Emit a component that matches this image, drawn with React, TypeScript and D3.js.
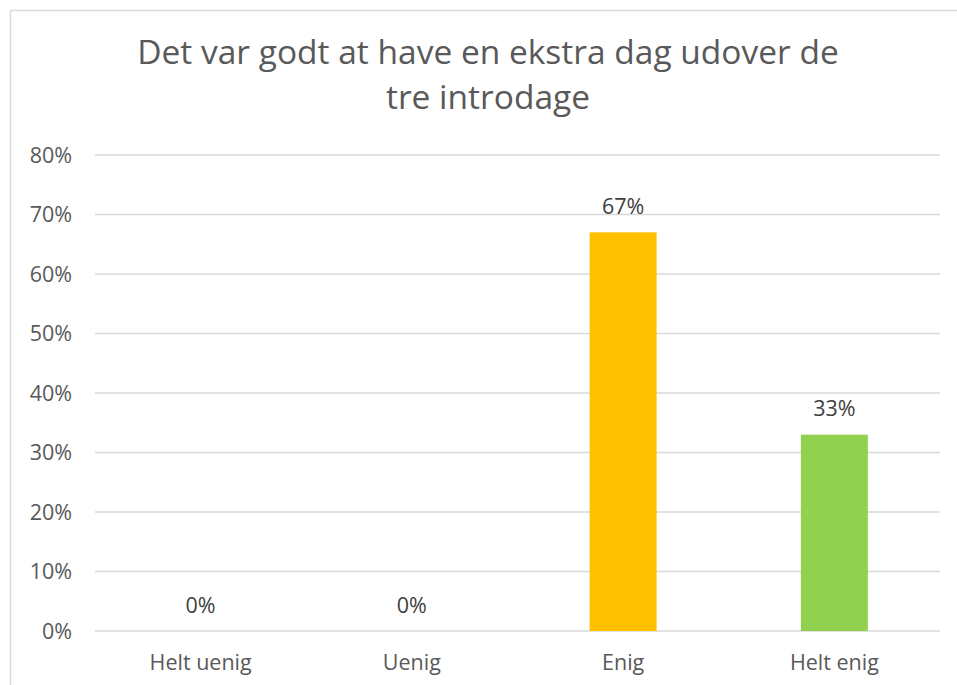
import React from "react";
import * as d3 from "d3";

const categories = ["Helt uenig", "Uenig", "Enig", "Helt enig"];
const values = [0, 0, 0.67, 0.33];
const colors = ["#5B9BD5", "#ED7D31", "#FFC000", "#92D050"];
const yTicks = [0, 0.1, 0.2, 0.3, 0.4, 0.5, 0.6, 0.7, 0.8];
const titleLines = ["Det var godt at have en ekstra dag udover de", "tre introdage"];

export default function App() {
  const W = 957, H = 685;
  const left = 95, right = 940, top = 155, bottom = 631;
  const x = d3.scaleBand<string>().domain(categories).range([left, right]).paddingInner(0.683).paddingOuter(0.3415);
  const y = d3.scaleLinear().domain([0, 0.8]).range([bottom, top]);
  const fmt = d3.format(".0%");
  const font = "'Open Sans', sans-serif";
  const fs = 21.5;
  return (
    <svg width={W} height={H} style={{ position: "absolute", left: 0, top: 0, background: "#fff" }}>
      <rect x={10.5} y={10.5} width={980} height={700} fill="#fff" stroke="#d9d9d9" strokeWidth={1.5} />
      {titleLines.map((t, i) => (
        <text key={i} x={488} y={64 + i * 45} textAnchor="middle" fontFamily={font} fontSize={33.5} fill="#595959">{t}</text>
      ))}
      {yTicks.map((t) => (
        <g key={t}>
          <line x1={left} x2={right} y1={y(t)} y2={y(t)} stroke="#d9d9d9" strokeWidth={1.5} />
          <text x={72} y={y(t) + 7.5} textAnchor="end" fontFamily={font} fontSize={fs} fill="#595959">{fmt(t)}</text>
        </g>
      ))}
      {categories.map((c, i) => (
        <g key={c}>
          <rect x={x(c)} y={y(values[i])} width={x.bandwidth()} height={bottom - y(values[i])} fill={colors[i]} />
          <text x={(x(c) as number) + x.bandwidth() / 2} y={y(values[i]) - 18.5} textAnchor="middle" fontFamily={font} fontSize={fs} fill="#404040">{fmt(values[i])}</text>
          <text x={(x(c) as number) + x.bandwidth() / 2} y={669.5} textAnchor="middle" fontFamily={font} fontSize={fs} fill="#595959">{c}</text>
        </g>
      ))}
    </svg>
  );
}
